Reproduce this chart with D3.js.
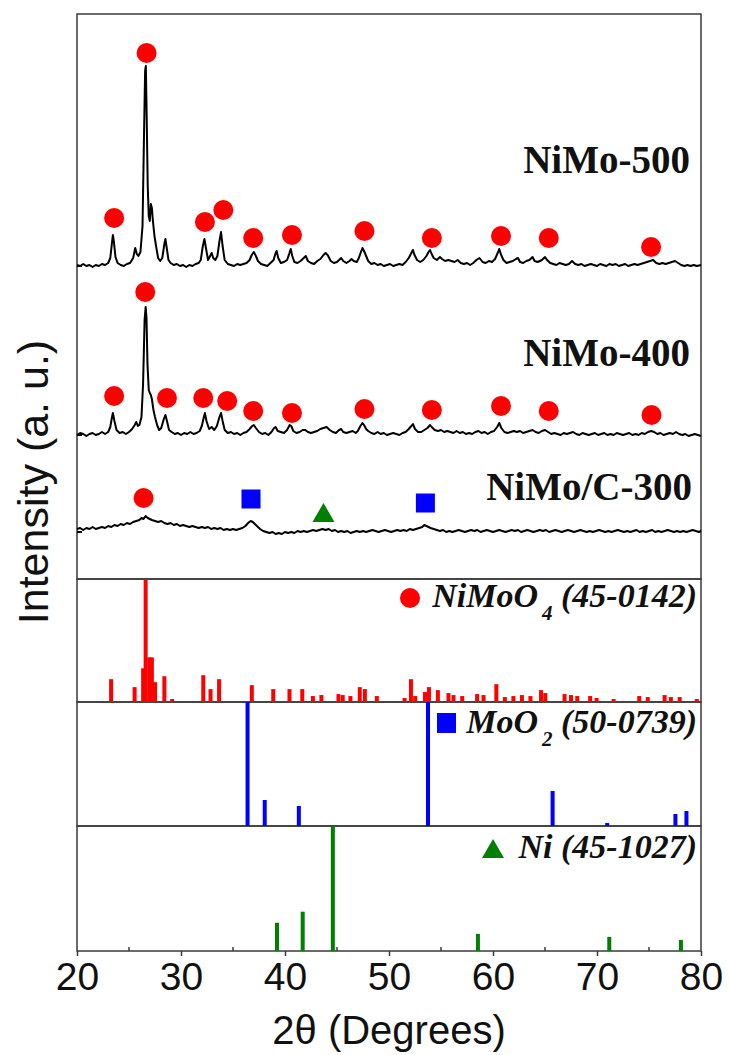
<!DOCTYPE html>
<html><head><meta charset="utf-8">
<script src="https://cdn.jsdelivr.net/npm/d3@7"></script>
<style>body{margin:0;background:#fff}</style></head>
<body><svg id="c" width="730" height="1055"></svg>
<script>
// ---------- data ----------
const xTicks = [20, 30, 40, 50, 60, 70, 80];
const xMinorTicks = [25, 35, 45, 55, 65, 75];
const sampleNames = ["NiMo-500", "NiMo-400", "NiMo/C-300"];
const sampleOffsets = [313, 144, 47];

const nimo500 = [[20.0,1],[20.3,0],[20.6,2],[20.9,0],[21.2,1],[21.5,-1],[21.8,1],[22.1,0],[22.4,2],[22.7,1],[23.0,3],[23.2,8],[23.35,22],[23.45,31],[23.55,24],[23.7,9],[23.9,3],[24.2,1],[24.5,0],[24.8,2],[25.1,3],[25.4,8],[25.6,18],[25.75,12],[25.9,10],[26.1,14],[26.3,40],[26.45,135],[26.55,195],[26.62,200],[26.7,150],[26.8,80],[26.9,50],[27.0,45],[27.1,62],[27.2,58],[27.3,45],[27.45,30],[27.6,20],[27.8,8],[28.0,5],[28.2,8],[28.4,22],[28.5,27],[28.6,20],[28.8,6],[29.0,3],[29.3,1],[29.6,2],[29.9,0],[30.2,1],[30.5,-1],[30.8,1],[31.1,0],[31.4,2],[31.7,3],[31.9,6],[32.1,20],[32.25,27],[32.4,18],[32.6,6],[32.8,10],[32.95,13],[33.1,8],[33.3,6],[33.5,10],[33.7,25],[33.85,34],[34.0,20],[34.2,6],[34.5,2],[34.8,1],[35.1,0],[35.4,2],[35.7,1],[36.0,2],[36.3,3],[36.6,6],[36.8,11],[37.0,14],[37.2,10],[37.4,5],[37.7,2],[38.0,1],[38.3,0],[38.6,3],[38.9,6],[39.1,13],[39.2,15],[39.35,8],[39.6,3],[39.9,4],[40.2,6],[40.4,12],[40.55,17],[40.7,10],[40.9,4],[41.2,3],[41.5,5],[41.8,8],[42.0,10],[42.2,5],[42.5,3],[42.8,2],[43.1,5],[43.4,7],[43.7,11],[43.9,13],[44.1,11],[44.4,5],[44.7,3],[45.0,4],[45.2,6],[45.4,8],[45.6,5],[45.9,3],[46.2,5],[46.4,7],[46.6,5],[46.9,4],[47.1,8],[47.3,14],[47.45,18],[47.6,15],[47.8,10],[48.0,5],[48.3,2],[48.6,3],[48.9,1],[49.2,2],[49.5,0],[49.8,1],[50.1,2],[50.4,0],[50.7,1],[51.0,2],[51.3,1],[51.6,4],[51.9,8],[52.1,12],[52.3,16],[52.45,11],[52.7,6],[53.0,4],[53.3,6],[53.6,10],[53.8,14],[53.95,16],[54.1,12],[54.3,8],[54.6,6],[54.9,9],[55.1,7],[55.4,5],[55.7,6],[56.0,5],[56.3,4],[56.6,6],[56.9,3],[57.2,2],[57.5,3],[57.8,1],[58.1,3],[58.4,6],[58.7,8],[59.0,4],[59.3,3],[59.6,5],[59.9,4],[60.2,7],[60.45,13],[60.6,17],[60.75,12],[61.0,6],[61.3,3],[61.6,4],[61.9,5],[62.2,7],[62.4,8],[62.6,4],[62.9,3],[63.2,5],[63.5,6],[63.8,9],[64.0,5],[64.3,4],[64.7,6],[65.0,9],[65.2,6],[65.5,3],[65.8,2],[66.1,1],[66.4,3],[66.7,2],[67.0,1],[67.3,2],[67.6,5],[67.9,2],[68.2,1],[68.5,2],[68.8,0],[69.1,1],[69.4,2],[69.7,1],[70.0,0],[70.3,2],[70.6,1],[70.9,0],[71.2,2],[71.5,1],[71.8,2],[72.1,0],[72.4,1],[72.7,2],[73.0,0],[73.3,1],[73.6,2],[73.9,1],[74.2,2],[74.5,3],[74.8,4],[75.1,5],[75.4,6],[75.7,3],[76.0,2],[76.3,3],[76.6,2],[76.9,3],[77.2,4],[77.5,5],[77.8,3],[78.1,1],[78.4,0],[78.7,1],[79.0,0],[79.3,1],[79.6,0],[80.0,1]];

const nimo400 = [[20.0,0],[20.3,2],[20.6,1],[20.9,-1],[21.2,1],[21.5,2],[21.8,0],[22.1,1],[22.4,3],[22.7,1],[23.0,3],[23.2,8],[23.35,17],[23.45,22],[23.6,14],[23.8,5],[24.1,2],[24.4,3],[24.7,1],[25.0,3],[25.3,6],[25.55,10],[25.7,13],[25.85,9],[26.0,10],[26.2,18],[26.35,50],[26.5,115],[26.6,128],[26.68,118],[26.78,70],[26.9,45],[27.0,42],[27.1,40],[27.2,36],[27.35,25],[27.5,18],[27.7,10],[27.9,5],[28.1,7],[28.35,16],[28.5,20],[28.65,14],[28.85,5],[29.1,3],[29.4,1],[29.7,2],[30.0,0],[30.3,2],[30.6,1],[30.9,3],[31.2,1],[31.5,2],[31.8,4],[32.0,9],[32.2,18],[32.3,22],[32.45,14],[32.7,6],[32.95,8],[33.2,5],[33.45,9],[33.7,18],[33.85,22],[34.0,14],[34.2,5],[34.5,2],[34.8,3],[35.1,1],[35.4,2],[35.7,0],[36.0,2],[36.3,3],[36.6,6],[36.85,9],[37.0,10],[37.2,7],[37.5,3],[37.8,1],[38.1,2],[38.4,0],[38.7,3],[38.95,7],[39.1,8],[39.3,4],[39.6,3],[39.9,2],[40.2,5],[40.45,10],[40.6,9],[40.8,4],[41.1,2],[41.4,3],[41.7,5],[41.95,5],[42.2,3],[42.5,2],[42.8,3],[43.1,4],[43.4,6],[43.7,7],[44.0,8],[44.3,5],[44.6,3],[44.9,2],[45.2,5],[45.4,6],[45.6,3],[45.9,2],[46.2,3],[46.5,4],[46.8,2],[47.0,4],[47.25,9],[47.45,12],[47.6,10],[47.8,6],[48.0,4],[48.3,2],[48.6,1],[48.9,3],[49.2,1],[49.5,2],[49.8,0],[50.1,1],[50.4,2],[50.7,1],[51.0,0],[51.3,2],[51.6,3],[51.9,6],[52.15,9],[52.3,11],[52.5,6],[52.8,3],[53.1,3],[53.4,5],[53.7,7],[53.95,10],[54.1,8],[54.4,5],[54.7,4],[55.0,5],[55.3,3],[55.6,4],[55.9,3],[56.2,2],[56.5,4],[56.8,2],[57.1,3],[57.4,1],[57.7,2],[58.0,1],[58.3,3],[58.6,4],[58.9,2],[59.2,3],[59.5,1],[59.8,3],[60.1,4],[60.4,8],[60.6,12],[60.8,7],[61.1,3],[61.4,2],[61.7,3],[62.0,4],[62.3,3],[62.6,4],[62.9,2],[63.2,3],[63.5,4],[63.8,5],[64.1,3],[64.4,2],[64.7,4],[65.0,5],[65.3,3],[65.6,1],[65.9,2],[66.2,1],[66.5,0],[66.8,2],[67.1,1],[67.4,2],[67.7,3],[68.0,1],[68.3,0],[68.6,2],[68.9,1],[69.2,0],[69.5,1],[69.8,2],[70.1,0],[70.4,1],[70.7,2],[71.0,0],[71.3,1],[71.6,0],[71.9,2],[72.2,1],[72.5,0],[72.8,1],[73.1,2],[73.4,0],[73.7,1],[74.0,0],[74.3,2],[74.6,1],[74.9,3],[75.2,4],[75.5,3],[75.8,1],[76.1,2],[76.4,0],[76.7,1],[77.0,2],[77.3,1],[77.6,3],[77.9,1],[78.2,0],[78.5,1],[78.8,-1],[79.1,0],[79.4,1],[79.7,0],[80.0,-1]];

const nimoC300 = [[20.0,3],[20.3,4],[20.6,2],[20.9,4],[21.2,3],[21.5,5],[21.8,3],[22.1,4],[22.4,5],[22.7,4],[23.0,6],[23.3,5],[23.6,7],[23.9,6],[24.2,8],[24.5,7],[24.8,9],[25.1,8],[25.4,10],[25.7,11],[26.0,12],[26.2,14],[26.4,13],[26.6,16],[26.8,14],[27.0,13],[27.2,12],[27.5,11],[27.8,10],[28.1,11],[28.4,9],[28.7,8],[29.0,9],[29.3,7],[29.6,8],[29.9,6],[30.2,7],[30.5,6],[30.8,5],[31.1,6],[31.4,5],[31.7,4],[32.0,5],[32.3,4],[32.6,5],[32.9,3],[33.2,4],[33.5,3],[33.8,4],[34.1,2],[34.4,3],[34.7,2],[35.0,3],[35.3,2],[35.6,3],[35.9,4],[36.2,6],[36.45,9],[36.7,11],[36.9,10],[37.1,8],[37.3,6],[37.6,3],[37.9,1],[38.2,0],[38.5,-1],[38.8,0],[39.1,-2],[39.4,-1],[39.7,-2],[40.0,0],[40.3,-1],[40.6,0],[40.9,-1],[41.2,1],[41.5,0],[41.8,1],[42.1,0],[42.4,1],[42.7,2],[43.0,1],[43.3,2],[43.6,3],[43.9,2],[44.2,3],[44.5,1],[44.8,2],[45.1,0],[45.4,1],[45.7,0],[46.0,1],[46.3,-1],[46.6,0],[46.9,1],[47.2,0],[47.5,1],[47.8,0],[48.1,1],[48.4,2],[48.7,1],[49.0,0],[49.3,1],[49.6,2],[49.9,1],[50.2,0],[50.5,1],[50.8,2],[51.1,1],[51.4,2],[51.7,1],[52.0,3],[52.3,2],[52.6,3],[52.9,4],[53.2,5],[53.4,7],[53.6,6],[53.8,5],[54.0,4],[54.3,3],[54.6,2],[54.9,1],[55.2,2],[55.5,0],[55.8,1],[56.1,0],[56.4,1],[56.7,2],[57.0,1],[57.3,0],[57.6,1],[57.9,2],[58.2,1],[58.5,2],[58.8,0],[59.1,1],[59.4,2],[59.7,1],[60.0,0],[60.3,1],[60.6,2],[60.9,1],[61.2,0],[61.5,1],[61.8,2],[62.1,1],[62.4,2],[62.7,0],[63.0,1],[63.3,2],[63.6,1],[63.9,0],[64.2,1],[64.5,2],[64.8,1],[65.1,2],[65.4,0],[65.7,1],[66.0,2],[66.3,1],[66.6,0],[66.9,1],[67.2,2],[67.5,1],[67.8,0],[68.1,1],[68.4,2],[68.7,1],[69.0,0],[69.3,1],[69.6,0],[69.9,1],[70.2,2],[70.5,1],[70.8,0],[71.1,1],[71.4,0],[71.7,1],[72.0,2],[72.3,1],[72.6,0],[72.9,1],[73.2,0],[73.5,1],[73.8,2],[74.1,0],[74.4,1],[74.7,0],[75.0,1],[75.3,2],[75.6,0],[75.9,1],[76.2,0],[76.5,1],[76.8,2],[77.1,1],[77.4,0],[77.7,1],[78.0,0],[78.3,1],[78.6,0],[78.9,1],[79.2,2],[79.5,1],[79.8,0],[80.0,1]];

// phase markers on patterns: [2theta, level]
const circles500 = [[23.57,361],[26.69,526],[32.3,357],[34.07,369],[36.94,341],[40.67,344],[47.64,348],[54.12,341],[60.77,343],[65.36,341],[75.2,332]];
const circles400 = [[23.57,183],[26.56,287],[28.65,181],[32.14,181],[34.44,178],[36.94,168],[40.67,166],[47.64,170],[54.12,169],[60.77,173],[65.36,168],[75.24,164]];
const circlesC300 = [[26.4,81]];
const squaresC300 = [[36.73,80],[53.5,76]];
const trianglesC300 = [[43.7,66]];

// reference cards: [2theta, relative intensity]
const refNiMoO4 = [[23.28,23],[25.54,15],[26.36,34],[26.6,124],[26.95,45],[27.2,45],[27.5,20],[28.4,26],[29.15,3],[32.14,27],[32.84,13],[33.66,23],[36.81,17],[38.87,13],[40.43,13],[41.66,13],[42.68,6],[43.5,7],[45.14,8],[45.55,7],[46.29,6],[47.19,15],[47.68,13],[48.83,6],[51.5,4],[52.11,23],[52.52,6],[53.46,10],[53.84,15],[54.7,12],[55.72,9],[56.2,7],[57.04,6],[58.47,8],[59.09,7],[60.32,18],[61.14,5],[61.96,6],[62.78,7],[63.6,6],[64.62,12],[65.03,9],[66.88,8],[67.5,7],[68.1,6],[69.34,6],[69.96,4],[71.6,3],[74.06,6],[74.88,5],[76.5,7],[77.1,5],[77.95,5],[79.6,3]];
const refMoO2 = [[36.4,124],[38.05,26],[41.33,20],[53.75,124],[65.73,35],[70.98,3],[77.54,12],[78.6,15]];
const refNi = [[39.23,28],[41.7,39],[44.6,124],[58.55,17],[71.18,14],[78.07,11]];

const refLabels = [
  {main: "NiMoO", sub: "4", rest: " (45-0142)"},
  {main: "MoO", sub: "2", rest: " (50-0739)"},
  {main: "Ni", sub: "", rest: " (45-1027)"}
];

// ---------- layout ----------
const L = 77, R = 701;
const topPanel = {y0: 14, y1: 579};
const refPanels = [{y0: 579, y1: 702}, {y0: 702, y1: 826}, {y0: 826, y1: 951}];
const frameColor = "#3a3a3a";

const svg = d3.select("#c");
const x = d3.scaleLinear().domain([20, 80]).range([L, R]);
const yTop = d3.scaleLinear().domain([0, topPanel.y1 - topPanel.y0]).range([topPanel.y1, topPanel.y0]);

// frames
[topPanel, ...refPanels].forEach(p => {
  svg.append("rect").attr("x", L).attr("y", p.y0).attr("width", R - L).attr("height", p.y1 - p.y0)
    .attr("fill", "none").attr("stroke", frameColor).attr("stroke-width", 1.5);
});

// patterns
const patterns = [nimo500, nimo400, nimoC300];
patterns.forEach((pat, i) => {
  const off = sampleOffsets[i];
  const line = d3.line().x(d => x(d[0])).y(d => yTop(d[1] + off));
  svg.append("path").datum(pat).attr("d", line).attr("fill", "none")
    .attr("stroke", "#000").attr("stroke-width", 2).attr("stroke-linejoin", "round");
  svg.append("line").attr("x1", L).attr("x2", L + 5).attr("y1", yTop(off)).attr("y2", yTop(off))
    .attr("stroke", "#000").attr("stroke-width", 2);
});

// sample labels
const labelPos = [[690, 173], [690, 366], [692, 500]];
sampleNames.forEach((n, i) => {
  svg.append("text").attr("x", labelPos[i][0]).attr("y", labelPos[i][1]).attr("text-anchor", "end")
    .attr("font-family", "'Liberation Serif','Times New Roman',serif").attr("font-weight", "bold")
    .attr("font-size", 39).attr("fill", "#111").text(n);
});

// markers
const red = "#ff0000", blue = "#0000ff", green = "#008000";
[...circles500, ...circles400, ...circlesC300].forEach(d => {
  svg.append("circle").attr("cx", x(d[0])).attr("cy", yTop(d[1])).attr("r", 10).attr("fill", red);
});
squaresC300.forEach(d => {
  svg.append("rect").attr("x", x(d[0]) - 9.5).attr("y", yTop(d[1]) - 9.5).attr("width", 19).attr("height", 19).attr("fill", blue);
});
const triPath = (cx, cy) => `M${cx},${cy - 10}L${cx + 11},${cy + 9}L${cx - 11},${cy + 9}Z`;
trianglesC300.forEach(d => {
  svg.append("path").attr("d", triPath(x(d[0]), yTop(d[1]))).attr("fill", green);
});

// reference sticks
const refs = [refNiMoO4, refMoO2, refNi];
const refColors = [red, blue, green];
refs.forEach((ref, i) => {
  const p = refPanels[i];
  const y = d3.scaleLinear().domain([0, 124]).range([p.y1, p.y0]);
  svg.append("g").selectAll("rect").data(ref).join("rect")
    .attr("x", d => x(d[0]) - 2).attr("width", 4)
    .attr("y", d => y(d[1])).attr("height", d => p.y1 - y(d[1]))
    .attr("fill", refColors[i]);
});

// reference legends
const legendY = [607, 733, 858];
refLabels.forEach((lb, i) => {
  const t = svg.append("text").attr("x", 697).attr("y", legendY[i]).attr("text-anchor", "end")
    .attr("font-family", "'Liberation Serif','Times New Roman',serif").attr("font-weight", "bold")
    .attr("font-style", "italic").attr("font-size", 34).attr("fill", "#111");
  t.append("tspan").text(lb.main);
  if (lb.sub) {
    t.append("tspan").attr("font-size", 21).attr("dy", 13).attr("dx", 4).text(lb.sub);
    t.append("tspan").attr("dy", -13).text(lb.rest);
  } else {
    t.append("tspan").text(lb.rest);
  }
});
// legend symbols
svg.append("circle").attr("cx", 410).attr("cy", 598).attr("r", 10).attr("fill", red);
svg.append("rect").attr("x", 437).attr("y", 713).attr("width", 19).attr("height", 20).attr("fill", blue);
svg.append("path").attr("d", triPath(493, 849)).attr("fill", green);

// bottom axis
const bottom = refPanels[2].y1;
const axis = d3.axisBottom(x).tickValues(xTicks).tickSize(5).tickPadding(6).tickFormat(d3.format("d"));
const gAx = svg.append("g").attr("transform", `translate(0,${bottom})`).call(axis);
gAx.select(".domain").remove();
gAx.selectAll(".tick line").attr("stroke", frameColor).attr("stroke-width", 1.5);
gAx.selectAll(".tick text").attr("font-family", "'Liberation Sans',Arial,sans-serif")
  .attr("font-size", 39).attr("fill", "#111").attr("dy", "0.71em");
svg.append("g").selectAll("line").data(xMinorTicks).join("line")
  .attr("x1", d => x(d)).attr("x2", d => x(d)).attr("y1", bottom).attr("y2", bottom - 4)
  .attr("stroke", frameColor).attr("stroke-width", 1.5);

// axis titles
svg.append("text").attr("x", (L + R) / 2).attr("y", 1044).attr("text-anchor", "middle")
  .attr("font-family", "'Liberation Sans',Arial,sans-serif").attr("font-size", 40).attr("fill", "#111")
  .text("2θ (Degrees)");
svg.append("text").attr("transform", "translate(48,482) rotate(-90)").attr("text-anchor", "middle")
  .attr("font-family", "'Liberation Sans',Arial,sans-serif").attr("font-size", 43).attr("fill", "#111")
  .text("Intensity (a. u.)");
</script>
</body></html>
